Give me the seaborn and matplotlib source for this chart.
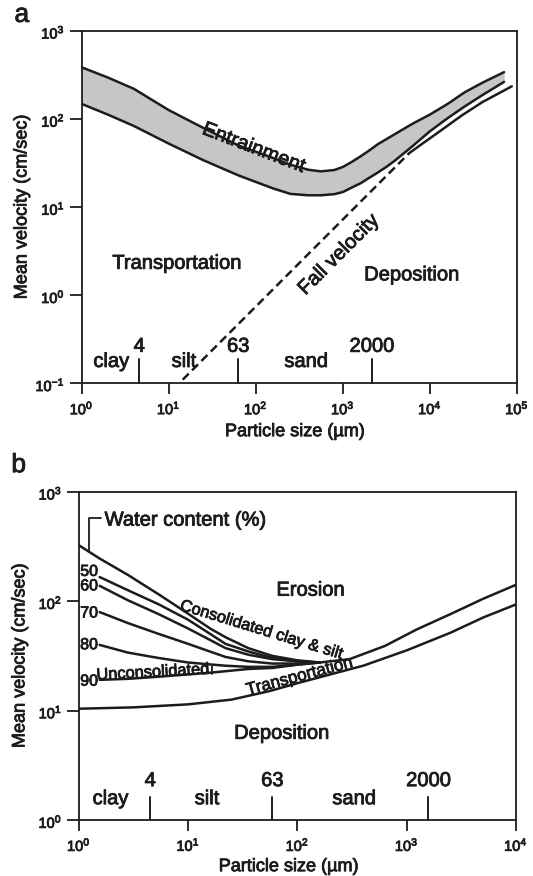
import matplotlib
matplotlib.use("Agg")
import matplotlib.pyplot as plt
import matplotlib.patheffects as pe
from matplotlib.text import Text
import seaborn as sns
import pandas as pd

# ---------------- Panel a (Hjulström) : particle size (µm), velocity (cm/s) -------------
size_a = [1, 2, 4, 10, 25, 63, 160, 250, 400, 560, 800, 1000, 1260, 1600, 2000, 2500,
          3160, 4000, 6300, 10000, 16000, 25000, 40000, 71000]
entrain_upper = [385, 295, 219, 126, 79, 50, 35.9, 30.2, 26.5, 25.4, 26.3, 28.5, 32.4,
                 37.6, 43.7, 51.3, 58.9, 67.6, 88, 112, 148, 200, 257, 339]
entrain_lower = [148, 112, 83, 52.5, 34, 22.9, 16.2, 14.1, 13.6, 13.6, 14.0, 14.8, 16.6,
                 18.6, 21.4, 24.5, 28.5, 33.9, 49, 72.4, 102, 138, 186, 263]
fall_size = [14.5, 5750]
fall_vel = [0.11, 40.7]
depo_size = [5750, 7950, 12600, 23400, 40000, 87000]
depo_vel = [40.7, 51.3, 70.8, 110, 155, 234]

grain_ticks_a = [4.6, 63, 2150]
grain_labels = ["4", "63", "2000"]
class_names = ["clay", "silt", "sand"]
class_pos_a = [2.2, 15, 380]

# ---------------- Panel b (Postma) ----------------
size_lower_b = [1, 3.16, 10, 25, 56, 100, 200, 400, 1000, 2500, 5000, 10000]
depo_b = [10.4, 10.7, 11.4, 12.6, 15.1, 17.8, 21.4, 25.7, 35.5, 51.3, 70.8, 93.3]
size_erosion_b = [160, 300, 630, 1230, 2500, 5000, 10000]
erosion_b = [27.5, 29.5, 38.9, 55, 75.9, 105, 141]

size_top_wc = [1, 1.55, 2.8, 5.4, 10, 16, 22, 35.5, 59, 100, 160]
wc_top = [324, 245, 174, 115, 76.7, 56, 46.8, 37.2, 31.6, 28.8, 27.5]
size_wc = [1.55, 2.8, 5.4, 10, 16, 22, 35.5, 59, 100, 160]
wc50 = [166, 126, 93.3, 67.6, 50, 40.7, 34.7, 30.2, 28.2, 27.5]
wc60 = [138, 102, 75.9, 56.2, 44, 37.2, 32.4, 29.5, 28.2, 27.5]
wc70 = [79.4, 63.1, 50.1, 40.7, 34.5, 30.9, 28.2, 26.9, 26.9, 27.5]
wc80 = [39.8, 33.9, 30.2, 27.5, 26.4, 25.7, 25.1, 25.1, 26.3, 27.5]
wc90 = [19.1, 19.5, 20.4, 21.4, 22.2, 22.9, 24.0, 24.5, 26.3, 27.5]
wc_labels = ["50", "60", "70", "80", "90"]
wc_label_vel = [187, 138, 78, 40, 18.6]

grain_ticks_b = [4.5, 59, 1580]
class_pos_b = [1.95, 14.9, 331]

# ---------------- style ----------------
sns.set_theme(style="ticks")
plt.rcParams["font.family"] = ["Liberation Sans", "DejaVu Sans"]
plt.rcParams["mathtext.fontset"] = "custom"
plt.rcParams["mathtext.rm"] = "Liberation Sans"
plt.rcParams["mathtext.it"] = "Liberation Sans:italic"
plt.rcParams["mathtext.bf"] = "Liberation Sans:bold"

INK = "#1c1c1c"
LW = 1.8
TXT = 14.5

fig = plt.figure(figsize=(5.33, 8.76), dpi=100)
ax1 = fig.add_axes([0.153, 0.5624, 0.817, 0.4025])
ax2 = fig.add_axes([0.148, 0.0639, 0.820, 0.3748])


def style_axes(ax, xlim, ylim):
    ax.set_xscale("log")
    ax.set_yscale("log")
    ax.set_xlim(*xlim)
    ax.set_ylim(*ylim)
    ax.minorticks_off()
    for s in ax.spines.values():
        s.set_linewidth(1.3)
        s.set_color(INK)
    ax.tick_params(axis="x", which="major", length=8, width=1.3, pad=3,
                   labelsize=10.5, colors=INK)
    ax.tick_params(axis="y", which="major", length=9, width=1.3, pad=3,
                   labelsize=10.5, colors=INK)
    ax.set_facecolor("white")


# ================= Panel a =================
style_axes(ax1, (1, 1e5), (0.1, 1e3))
ax1.set_xticks([1, 10, 100, 1e3, 1e4, 1e5])
ax1.set_yticks([0.1, 1, 10, 100, 1000])
ax1.fill_between(size_a, entrain_lower, entrain_upper, color="#c6c6c6", lw=0)
df_a = pd.DataFrame({"size": size_a, "up": entrain_upper, "lo": entrain_lower})
sns.lineplot(data=df_a, x="size", y="up", ax=ax1, color=INK, lw=LW, sort=False)
sns.lineplot(data=df_a, x="size", y="lo", ax=ax1, color=INK, lw=LW, sort=False)
sns.lineplot(x=depo_size, y=depo_vel, ax=ax1, color=INK, lw=LW, sort=False)
ax1.plot(fall_size, fall_vel, color=INK, lw=LW, linestyle=(0, (3.4, 1.9)))

ax1.text(95, 47, "Entrainment", fontsize=TXT, rotation=-21, ha="center",
         va="center", color=INK)
ax1.text(12.5, 2.3, "Transportation", fontsize=TXT, ha="center", va="center", color=INK)
ax1.text(6200, 1.7, "Deposition", fontsize=TXT, ha="center", va="center", color=INK)
ax1.text(900, 2.9, "Fall velocity", fontsize=TXT, rotation=45, ha="center",
         va="center", color=INK)

tr1 = ax1.get_xaxis_transform()
for x, lab in zip(grain_ticks_a, grain_labels):
    ax1.plot([x, x], [0, 0.068], transform=tr1, color=INK, lw=1.4, clip_on=False)
    ax1.text(x, 0.105, lab, transform=tr1, fontsize=TXT, ha="center", va="center", color=INK)
for x, lab in zip(class_pos_a, class_names):
    ax1.text(x, 0.062, lab, transform=tr1, fontsize=TXT, ha="center", va="center", color=INK)

ax1.set_xlabel("Particle size (µm)", fontsize=13, color=INK)
ax1.set_ylabel("Mean velocity (cm/sec)", fontsize=13, color=INK)
ax1.xaxis.label.set_va("center")
ax1.yaxis.label.set_va("center")
ax1.xaxis.set_label_coords(0.49, -0.137)
ax1.yaxis.set_label_coords(-0.137, 0.5)

# ================= Panel b =================
style_axes(ax2, (1, 1e4), (1, 1e3))
ax2.set_xticks([1, 10, 100, 1e3, 1e4])
ax2.set_yticks([1, 10, 100, 1000])
sns.lineplot(x=size_lower_b, y=depo_b, ax=ax2, color=INK, lw=LW, sort=False)
sns.lineplot(x=size_erosion_b, y=erosion_b, ax=ax2, color=INK, lw=LW, sort=False)
sns.lineplot(x=size_top_wc, y=wc_top, ax=ax2, color=INK, lw=LW, sort=False)
for vals in (wc50, wc60, wc70, wc80, wc90):
    sns.lineplot(x=size_wc, y=vals, ax=ax2, color=INK, lw=LW, sort=False)

for lab, v in zip(wc_labels, wc_label_vel):
    ax2.text(1.24, v, lab, fontsize=11.5, ha="center", va="center", color=INK)

# bracket for "Water content (%)"
ax2.plot([1.23, 1.23, 1.58], [285, 569, 569], color=INK, lw=1.3)
ax2.text(1.72, 550, "Water content (%)", fontsize=TXT, ha="left", va="center", color=INK)
# bracket at the end of "Unconsolidated"
ax2.plot([16.6, 16.6], [21.4, 25.4], color=INK, lw=1.3)

ax2.text(132, 126, "Erosion", fontsize=TXT, ha="center", va="center", color=INK)
ax2.text(47, 54.5, "Consolidated clay & silt", fontsize=11.8, rotation=-17,
         ha="center", va="center", color=INK)
ax2.text(4.75, 22.4, "Unconsolidated", fontsize=11.8, rotation=3,
         ha="center", va="center", color=INK)
ax2.text(105, 20.5, "Transportation", fontsize=12.3, rotation=15,
         ha="center", va="center", color=INK)
ax2.text(72, 6.2, "Deposition", fontsize=TXT, ha="center", va="center", color=INK)

tr2 = ax2.get_xaxis_transform()
for x, lab in zip(grain_ticks_b, grain_labels):
    ax2.plot([x, x], [0, 0.07], transform=tr2, color=INK, lw=1.4, clip_on=False)
    ax2.text(x, 0.12, lab, transform=tr2, fontsize=TXT, ha="center", va="center", color=INK)
for x, lab in zip(class_pos_b, class_names):
    ax2.text(x, 0.065, lab, transform=tr2, fontsize=TXT, ha="center", va="center", color=INK)

ax2.set_xlabel("Particle size (µm)", fontsize=13, color=INK)
ax2.set_ylabel("Mean velocity (cm/sec)", fontsize=13, color=INK)
ax2.xaxis.label.set_va("center")
ax2.yaxis.label.set_va("center")
ax2.xaxis.set_label_coords(0.48, -0.142)
ax2.yaxis.set_label_coords(-0.135, 0.5)

fig.text(0.041, 0.983, "a", fontsize=19, ha="center", va="center", color=INK)
fig.text(0.035, 0.469, "b", fontsize=19, ha="center", va="center", color=INK)

# slightly heavier text, like the printed original
fig.canvas.draw()
for t in fig.findobj(Text):
    if t.get_text():
        t.set_path_effects([pe.withStroke(linewidth=0.6, foreground=INK)])

fig.savefig("out.png", dpi=100, facecolor="white")
